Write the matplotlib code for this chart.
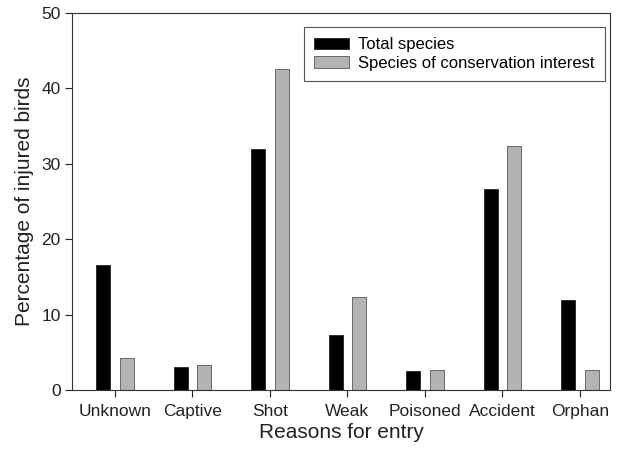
import matplotlib
matplotlib.use("Agg")
import matplotlib.pyplot as plt
import numpy as np

plt.rcParams['font.family'] = ['Liberation Sans', 'DejaVu Sans']

categories = ["Unknown", "Captive", "Shot", "Weak", "Poisoned", "Accident", "Orphan"]
total_species = [16.6, 3.0, 32.0, 7.3, 2.5, 26.6, 11.9]
conservation_interest = [4.3, 3.3, 42.5, 12.3, 2.6, 32.4, 2.6]
series_names = ["Total species", "Species of conservation interest"]
yticks = [0, 10, 20, 30, 40, 50]

fig = plt.figure(figsize=(6.19, 4.51), dpi=100)
ax = fig.add_axes([0.117, 0.1353, 0.8685, 0.8365])

x = np.arange(len(categories))
w = 0.18
off = 0.152
ax.bar(x - off, total_species, width=w, color='black', edgecolor='#222222', linewidth=0.6,
       label=series_names[0])
ax.bar(x + off, conservation_interest, width=w, color='#b3b3b3', edgecolor='#555555', linewidth=0.6,
       label=series_names[1])

ax.set_xlim(-0.55, 6.39)
ax.set_ylim(0, 50)
ax.set_yticks(yticks)
ax.set_xticks(x)
ax.set_xticklabels(categories)
ax.tick_params(axis='both', direction='out', length=5, width=0.8, labelsize=12.5, colors='#222222')
ax.tick_params(axis='x', pad=5)
for s in ax.spines.values():
    s.set_linewidth(0.8)
    s.set_color('#333333')

ax.set_xlabel("Reasons for entry", fontsize=15, color='#222222', labelpad=3)
ax.set_ylabel("Percentage of injured birds", fontsize=15, color='#222222', labelpad=5)

leg = ax.legend(loc='upper right', bbox_to_anchor=(0.9905, 0.962), fontsize=12,
                frameon=True, fancybox=False, edgecolor='#555555', framealpha=1,
                handlelength=2.07, handleheight=0.67, handletextpad=0.55,
                labelspacing=0.2, borderpad=0.62, borderaxespad=0)
leg.get_frame().set_linewidth(0.8)

fig.savefig("out.png", dpi=100)
